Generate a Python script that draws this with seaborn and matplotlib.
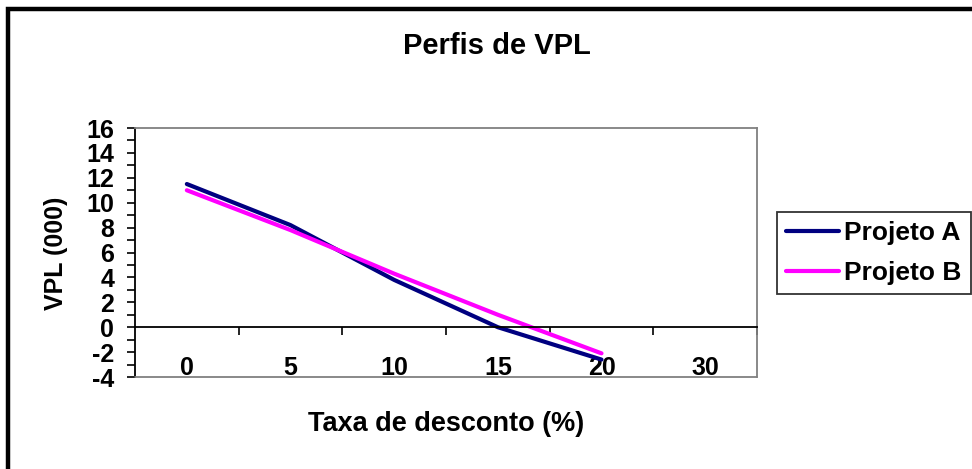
import matplotlib
matplotlib.use("Agg")
import matplotlib.pyplot as plt
import seaborn as sns
import pandas as pd
from matplotlib.patches import Rectangle
from matplotlib.ticker import MultipleLocator, FixedLocator

categories = ["0", "5", "10", "15", "20", "30"]
proj_a = [11.5, 8.2, 3.8, 0.0, -2.6]
proj_b = [11.0, 7.8, 4.3, 1.0, -2.1]
series_names = ["Projeto A", "Projeto B"]
title = "Perfis de VPL"
xlabel = "Taxa de desconto (%)"
ylabel = "VPL (000)"

sns.set_style("white")
plt.rcParams["font.family"] = ["Liberation Sans", "DejaVu Sans"]
plt.rcParams["font.weight"] = "bold"
plt.rcParams["axes.unicode_minus"] = False
plt.rcParams["text.color"] = "black"
plt.rcParams["xtick.color"] = "black"
plt.rcParams["ytick.color"] = "black"
plt.rcParams["axes.labelcolor"] = "black"

rows = []
for name, vals in zip(series_names, [proj_a, proj_b]):
    for i, v in enumerate(vals):
        rows.append({"pos": i, "VPL": v, "Projeto": name})
df = pd.DataFrame(rows)

fig = plt.figure(figsize=(9.72, 4.69), dpi=100)
ax = fig.add_axes([135 / 972, 1 - 377 / 469, (757 - 135) / 972, (377 - 128) / 469])

sns.lineplot(data=df, x="pos", y="VPL", hue="Projeto",
             palette={"Projeto A": "#000080", "Projeto B": "#FF00FF"},
             linewidth=3, ax=ax, legend=False, sort=False)

ax.set_xlim(-0.5, len(categories) - 0.5)
ax.set_ylim(-4, 16)

# Y axis
ax.yaxis.set_major_locator(MultipleLocator(2))
ax.yaxis.set_minor_locator(MultipleLocator(1))
ax.tick_params(axis="y", which="both", direction="out", length=6, width=1.2,
               color="black", left=True, labelsize=18, pad=9, labelcolor="black")
for lab in ax.get_yticklabels():
    lab.set_fontweight("bold")

# X axis at y=0
ax.spines["bottom"].set_position(("data", 0))
ax.spines["bottom"].set_color("black")
ax.spines["bottom"].set_linewidth(1.3)
ax.spines["left"].set_color("black")
ax.spines["left"].set_linewidth(1.3)
ax.spines["top"].set_color("#808080")
ax.spines["right"].set_color("#808080")
ax.spines["top"].set_linewidth(1.3)
ax.spines["right"].set_linewidth(1.3)

ax.set_xticks(range(len(categories)))
ax.set_xticklabels(categories, fontsize=18, fontweight="bold", color="black")
ax.xaxis.set_minor_locator(FixedLocator([i + 0.5 for i in range(len(categories))]))
ax.tick_params(axis="x", which="major", length=0, pad=21, bottom=True)
ax.tick_params(axis="x", which="minor", length=6, width=1.2, direction="out",
               color="black", bottom=True)

# gray bottom frame line at ylim bottom
ax.plot([0, 1], [0, 0], transform=ax.transAxes, color="#808080", lw=1.3,
        clip_on=False, zorder=5)

ax.set_xlabel("")
ax.set_ylabel("")
fig.text(446 / 972, 1 - 424 / 469, xlabel, ha="center", va="center",
         fontsize=19.5, fontweight="bold", color="black")
fig.text(56 / 972, 1 - 253 / 469, ylabel, ha="center", va="center",
         rotation=90, fontsize=18, fontweight="bold", color="black")
fig.text(497 / 972, 1 - 46 / 469, title, ha="center", va="center",
         fontsize=21, fontweight="bold", color="black")

# Legend
handles = [plt.Line2D([], [], color="#000080", lw=3),
           plt.Line2D([], [], color="#FF00FF", lw=3)]
leg = fig.legend(handles, series_names, loc="upper left",
                 bbox_to_anchor=(777 / 972, 1 - 212 / 469),
                 bbox_transform=fig.transFigure,
                 prop={"size": 19, "weight": "bold"},
                 frameon=True, fancybox=False, shadow=False,
                 handlelength=2.0, handletextpad=0.2, labelspacing=0.6,
                 borderpad=0.35, borderaxespad=0)
leg.get_frame().set_edgecolor("black")
leg.get_frame().set_linewidth(1.3)
leg.get_frame().set_facecolor("white")
for t in leg.get_texts():
    t.set_color("black")

# Outer border (top and left visible)
fig.add_artist(Rectangle((8 / 972, -0.2), 1.5, 1.2 - 9.5 / 469,
                         transform=fig.transFigure, fill=False,
                         lw=3.2, ec="black"))

fig.savefig("out.png", dpi=100)
